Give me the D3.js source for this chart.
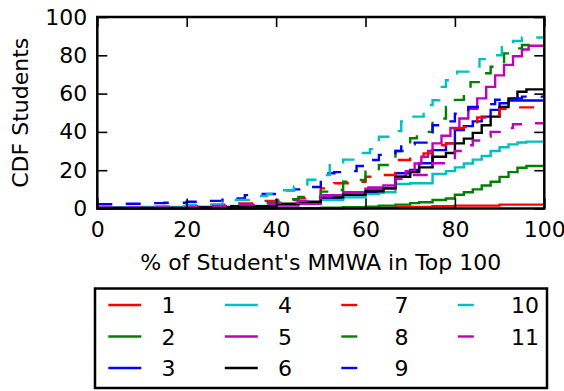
<!DOCTYPE html>
<html>
<head>
<meta charset="utf-8">
<script src="https://cdn.jsdelivr.net/npm/d3@7"></script>
<style>
  body { margin: 0; background: #fff; }
  svg { font-family: "DejaVu Sans", sans-serif; }
</style>
</head>
<body>
<svg class="cdf_chart" width="564" height="391"></svg>
<script>
// series labels, colours and dash style
var names = ["1", "2", "3", "4", "5", "6", "7", "8", "9", "10", "11"];
var colors = ["#ff0000", "#008000", "#0000ff", "#00bfbf", "#bf00bf", "#000000",
              "#ff0000", "#008000", "#0000ff", "#00bfbf", "#bf00bf"];
var dashed = [false, false, false, false, false, false, true, true, true, true, true];

var xTicks = [0, 20, 40, 60, 80, 100];
var yTicks = [0, 20, 40, 60, 80, 100];

// CDF points (% of MMWA in top 100, % of students)
var x1 = [0, 40, 55, 60, 66.7, 75, 80, 90, 100];
var y1 = [0, 0.1, 0.3, 0.5, 0.8, 1.2, 1.5, 2, 2.3];

var x2 = [0, 40, 50, 55, 60, 63, 66.7, 70, 72, 75, 78, 80, 82, 84, 86, 88, 90, 92, 94, 96, 100];
var y2 = [0, 0.2, 0.4, 0.7, 1, 1.5, 2, 2.8, 3.3, 4.4, 5.2, 7.2, 8.5, 10, 12, 14, 16.5, 19, 21.3, 22.2, 22.2];

var x3 = [0, 20, 30, 40, 45, 50, 55, 60, 64, 66.7, 70, 72, 75, 78, 80, 82, 84, 86, 88, 90, 92, 100];
var y3 = [0.3, 0.6, 1.2, 2.3, 3, 5.5, 7, 8.5, 10.5, 18.4, 20.1, 23.6, 30.5, 34, 41, 43, 45.5, 48, 51.5, 55, 56.4, 56.4];

var x4 = [0, 10, 20, 30, 40, 45, 50, 55, 60, 63, 66.7, 70, 75, 78, 80, 82, 84, 86, 88, 90, 92, 94, 96, 100];
var y4 = [0.5, 0.8, 1, 1.3, 1.8, 2.5, 4.4, 5.8, 7.5, 8.5, 12.8, 13.2, 18, 19.5, 21.5, 23.5, 25.5, 27.5, 30, 32, 33.5, 34.5, 34.9, 34.9];

var x5 = [0, 20, 30, 40, 45, 50, 55, 60, 64, 66.7, 69, 71, 72.5, 74, 75, 77, 79, 81, 83, 85, 87, 89, 91, 93, 95, 96.5, 100];
var y5 = [0.3, 0.5, 0.8, 1.5, 2.5, 7, 8.5, 10.3, 12, 16.6, 19.5, 23.5, 27, 30, 34, 38, 42, 47, 52, 57.5, 63.5, 69.5, 75, 79.5, 83, 85, 85];

var x6 = [0, 20, 30, 40, 45, 50, 55, 60, 64, 66.7, 70, 72, 75, 78, 80, 82, 84, 86, 88, 90, 92, 94, 96, 100];
var y6 = [0.3, 0.6, 1.2, 2.5, 3.5, 5.8, 7.2, 9, 10.5, 16.6, 19, 21.5, 27, 29, 34, 36.5, 39.5, 43.5, 48, 53, 57.5, 61, 62.2, 62.2];

var x7 = [0, 10, 20, 25, 30, 35, 40, 45, 50, 53, 56, 60, 63, 66.7, 70, 73, 75, 78, 80, 82, 85, 88, 90, 93, 100];
var y7 = [0.5, 0.8, 1.6, 2, 2.7, 4, 4.4, 5.3, 10.5, 13.2, 14, 16.6, 17.5, 25.3, 27, 28.8, 33, 34, 41.9, 42.5, 47.5, 48.8, 52, 52.8, 52.8];

var x8 = [0, 10, 20, 30, 35, 40, 42, 45, 50, 52, 55, 58, 60, 63, 66.7, 70, 71.5, 75, 78, 80, 82, 83.5, 86.5, 88, 91, 92.5, 95, 100];
var y8 = [0.5, 0.8, 1.2, 2, 3, 4, 4.8, 6, 8.8, 9.7, 14, 14.9, 19.2, 22.7, 30, 36.7, 40, 47, 53, 56.7, 62, 66, 70.6, 74, 81, 83.6, 85.4, 85.4];

var x9 = [0, 5, 10, 15, 20, 25, 28, 30, 33, 37, 40, 44, 47, 50, 53, 55, 58, 60, 63, 66.7, 68, 71, 74, 75, 78, 80, 83, 86, 89, 92, 95, 100];
var y9 = [2.2, 2.5, 2.8, 3, 3.5, 4, 4.6, 5.3, 7, 7.6, 9.5, 10, 11.2, 18.4, 19, 19.5, 22.2, 25.3, 28, 30, 33.5, 34.4, 38.4, 43.5, 45.5, 49.5, 53, 54.5, 56.8, 57.5, 58.4, 58.4];

var x10 = [0, 5, 10, 15, 20, 25, 28, 31, 35, 38, 41, 44, 47, 50, 52, 55, 58, 61, 63, 65.5, 68, 70, 73, 75, 76.5, 78, 80.5, 83, 85.5, 88, 90.5, 93, 95, 100];
var y10 = [0.5, 0.8, 1, 1.3, 1.8, 2, 3.5, 4.4, 6.5, 7.6, 9.5, 11.5, 15, 17.5, 23.5, 25.5, 29, 31, 37.5, 40.5, 45.5, 48, 54, 56.5, 63.5, 67, 71.5, 73.5, 78, 80, 85.5, 87.5, 89.3, 89.3];

var x11 = [0, 10, 20, 25, 30, 35, 40, 45, 50, 55, 60, 66.7, 70, 74, 75, 78, 80, 82, 84, 86, 88, 90, 93, 96, 100];
var y11 = [0.5, 0.5, 0.8, 1.3, 2, 2.5, 3, 4, 6.5, 8.5, 11, 15.5, 17.5, 19.2, 23.6, 25.5, 30, 33, 35.5, 37.5, 40, 42, 44, 44.5, 44.5];

var xsAll = [x1, x2, x3, x4, x5, x6, x7, x8, x9, x10, x11];
var ysAll = [y1, y2, y3, y4, y5, y6, y7, y8, y9, y10, y11];

var svg = d3.select(".cdf_chart");
var padLeft = 97.3, padRight = 544.3, padTop = 17, padBottom = 208.5;
var fontSize = 22;

var x = d3.scaleLinear().domain([0, 100]).range([padLeft, padRight]);
var y = d3.scaleLinear().domain([0, 100]).range([padBottom, padTop]);

var line = d3.line()
    .x(function(d) { return x(d[0]); })
    .y(function(d) { return y(d[1]); })
    .curve(d3.curveStepAfter);

var series = xsAll.map(function(xs, i) {
  return xs.map(function(v, j) { return [v, ysAll[i][j]]; });
});

svg.append("g").selectAll("path")
    .data(series)
    .enter().append("path")
    .attr("d", line)
    .attr("fill", "none")
    .attr("stroke", function(d, i) { return colors[i]; })
    .attr("stroke-width", 2.4)
    .attr("stroke-dasharray", function(d, i) { return dashed[i] ? "15,14" : null; });

// axes, ticks pointing inward on all four sides
var axisB = svg.append("g").attr("transform", "translate(0," + padBottom + ")")
    .call(d3.axisBottom(x).tickValues(xTicks).tickSize(-10).tickPadding(12.9));
var axisL = svg.append("g").attr("transform", "translate(" + padLeft + ",0)")
    .call(d3.axisLeft(y).tickValues(yTicks).tickSize(-10).tickPadding(10));
var axisT = svg.append("g").attr("transform", "translate(0," + padTop + ")")
    .call(d3.axisTop(x).tickValues(xTicks).tickSize(-10).tickFormat(""));
var axisR = svg.append("g").attr("transform", "translate(" + padRight + ",0)")
    .call(d3.axisRight(y).tickValues(yTicks).tickSize(-10).tickFormat(""));

[axisB, axisL, axisT, axisR].forEach(function(a) {
  a.select(".domain").remove();
  a.selectAll(".tick line").attr("stroke", "#000").attr("stroke-width", 1.6);
  a.selectAll("text").attr("font-size", fontSize).attr("fill", "#000")
    .attr("font-family", "DejaVu Sans");
});

svg.append("rect")
    .attr("x", padLeft).attr("y", padTop)
    .attr("width", padRight - padLeft).attr("height", padBottom - padTop)
    .attr("fill", "none").attr("stroke", "#000").attr("stroke-width", 2.5);

svg.append("text")
    .attr("x", (padLeft + padRight) / 2).attr("y", 270)
    .attr("text-anchor", "middle").attr("font-size", fontSize)
    .text("% of Student's MMWA in Top 100");

svg.append("text")
    .attr("transform", "translate(28," + (padTop + padBottom) / 2 + ") rotate(-90)")
    .attr("text-anchor", "middle").attr("font-size", fontSize)
    .text("CDF Students");

//===== LEGEND =====
var legend = svg.append("g");
legend.append("rect")
    .attr("x", 95).attr("y", 288.5)
    .attr("width", 452).attr("height", 99.5)
    .attr("fill", "#fff").attr("stroke", "#000").attr("stroke-width", 2.5);

var item = legend.selectAll(".item")
    .data(names)
    .enter().append("g")
    .attr("class", "item")
    .attr("transform", function(d, i) {
      return "translate(" + (108.3 + 116.5 * Math.floor(i / 3)) + "," + (305 + 31.5 * (i % 3)) + ")"; });
item.append("line")
    .attr("x1", 0).attr("x2", 33).attr("y1", 0).attr("y2", 0)
    .attr("stroke", function(d, i) { return colors[i]; })
    .attr("stroke-width", 2.4)
    .attr("stroke-dasharray", function(d, i) { return dashed[i] ? "16,17" : null; });
item.append("text")
    .attr("x", 53.3)
    .attr("y", 8.3)
    .attr("font-size", fontSize)
    .text(function(d) { return d; });
</script>
</body>
</html>
